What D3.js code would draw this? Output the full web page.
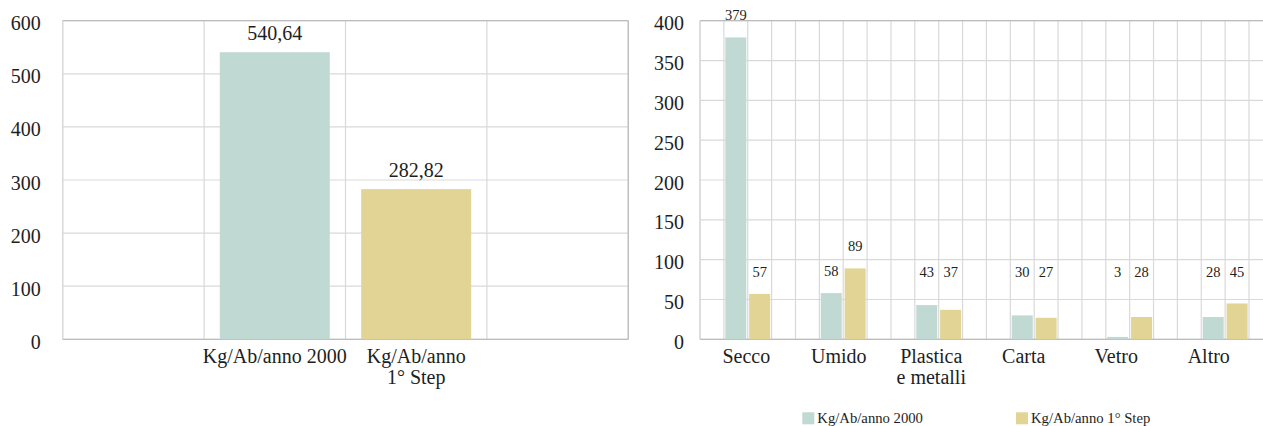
<!DOCTYPE html>
<html>
<head>
<meta charset="utf-8">
<script src="https://cdn.jsdelivr.net/npm/d3@7"></script>
<style>
  html, body { margin: 0; padding: 0; background: #fff; }
  svg { display: block; }
</style>
</head>
<body>
<svg id="chart" width="1263" height="426"></svg>
<script>
// ---- data ----
const totalCategories = ["Kg/Ab/anno 2000", "Kg/Ab/anno\n1° Step"];
const totalValues = [540.64, 282.82];
const totalTicks = [0, 100, 200, 300, 400, 500, 600];

const fractionCategories = ["Secco", "Umido", "Plastica\ne metalli", "Carta", "Vetro", "Altro"];
const seriesNames = ["Kg/Ab/anno 2000", "Kg/Ab/anno 1° Step"];
const values2000 = [379, 58, 43, 30, 3, 28];
const valuesStep1 = [57, 89, 37, 27, 28, 45];
const fractionTicks = [0, 50, 100, 150, 200, 250, 300, 350, 400];

// ---- style ----
const colors = ["#c1d9d3", "#e1d495"];
const gridColor = "#d9d9d9";
const frameColor = "#bcbcbc";
const textColor = "#1e1e1e";
const serif = "'Liberation Serif', 'Times New Roman', serif";
const fontSize = 20;

const itFormat = d3.formatLocale({ decimal: ",", thousands: ".", grouping: [3], currency: ["€", ""] });
const fmt2 = itFormat.format(".2f");

const svg = d3.select("#chart")
  .style("font-family", serif);

function styleText(sel, size) {
  sel.style("font-family", serif)
    .style("font-size", size + "px")
    .attr("fill", textColor);
}

// multi-line tick labels split on "\n"
function multiline(sel, lineHeight) {
  sel.each(function () {
    const t = d3.select(this);
    const lines = t.text().split("\n");
    t.text(null);
    lines.forEach((ln, i) => {
      t.append("tspan").attr("x", 0).attr("dy", i === 0 ? 0 : lineHeight).text(ln);
    });
  });
}

function frame(g, x0, x1, y0, y1) {
  g.append("line").attr("x1", x0).attr("x2", x1).attr("y1", y1).attr("y2", y1)
    .attr("stroke", frameColor).attr("stroke-width", 1.3);
  g.append("line").attr("x1", x0).attr("x2", x1).attr("y1", y0).attr("y2", y0)
    .attr("stroke", frameColor).attr("stroke-width", 1.3);
  g.append("line").attr("x1", x1).attr("x2", x1).attr("y1", y1).attr("y2", y0)
    .attr("stroke", frameColor).attr("stroke-width", 1.3);
  g.append("line").attr("x1", x0).attr("x2", x0).attr("y1", y1).attr("y2", y0)
    .attr("stroke", gridColor).attr("stroke-width", 1.3);
}

// ================= left chart: totals =================
{
  const x0 = 62.7, x1 = 628.3, yBottom = 339.3, yTop = 20.7;
  const g = svg.append("g");

  const y = d3.scaleLinear().domain([0, 600]).range([yBottom, yTop]);
  const x = d3.scaleBand().domain(totalCategories).range([x0, x1])
    .paddingInner(0.222).paddingOuter(1.111);

  // horizontal grid
  g.append("g").selectAll("line").data(totalTicks).join("line")
    .attr("x1", x0).attr("x2", x1)
    .attr("y1", d => y(d)).attr("y2", d => y(d))
    .attr("stroke", gridColor).attr("stroke-width", 1.2);

  // vertical grid: one cell per band step
  const cells = Math.round((x1 - x0) / x.step());
  g.append("g").selectAll("line").data(d3.range(cells + 1)).join("line")
    .attr("x1", i => x0 + i * x.step()).attr("x2", i => x0 + i * x.step())
    .attr("y1", yTop).attr("y2", yBottom)
    .attr("stroke", gridColor).attr("stroke-width", 1.2);

  frame(g, x0, x1, yBottom, yTop);

  // bars
  g.append("g").selectAll("rect").data(totalValues).join("rect")
    .attr("x", (d, i) => x(totalCategories[i]))
    .attr("width", x.bandwidth())
    .attr("y", d => y(d))
    .attr("height", d => yBottom - y(d))
    .attr("fill", (d, i) => colors[i]);

  // value labels
  g.append("g").selectAll("text").data(totalValues).join("text")
    .attr("x", (d, i) => x(totalCategories[i]) + x.bandwidth() / 2)
    .attr("y", d => y(d) - 12)
    .attr("text-anchor", "middle")
    .call(styleText, fontSize)
    .text(d => fmt2(d));

  // y axis
  const ya = g.append("g").attr("transform", `translate(${x0},0)`)
    .call(d3.axisLeft(y).tickValues(totalTicks).tickSize(0).tickPadding(22));
  ya.attr("font-family", null).attr("font-size", null);
  ya.select(".domain").remove();
  ya.selectAll("text").call(styleText, fontSize).attr("dy", "9px");

  // x axis
  const xa = g.append("g").attr("transform", `translate(0,${yBottom})`)
    .call(d3.axisBottom(x).tickSize(0).tickPadding(0));
  xa.attr("font-family", null).attr("font-size", null);
  xa.select(".domain").remove();
  xa.selectAll("text").call(styleText, fontSize)
    .attr("y", 23.7).attr("dy", 0).call(multiline, 21);
}

// ================= right chart: fractions =================
{
  const x0 = 700, cell = 23.87, nCells = 24, yBottom = 339.3, yTop = 20.7;
  const x1 = x0 + nCells * cell;
  const g = svg.append("g");

  const y = d3.scaleLinear().domain([0, 400]).range([yBottom, yTop]);
  const x = d3.scaleBand().domain(fractionCategories).range([x0, x1])
    .paddingInner(0.5).paddingOuter(0.25);
  const xs = d3.scaleBand().domain(seriesNames).range([0, x.bandwidth()])
    .paddingInner(0.12).paddingOuter(0.06);
  // category labels sit on their own band over the visible axis length
  const xLabels = d3.scaleBand().domain(fractionCategories).range([x0, 1255]);

  const rows = fractionCategories.map((c, i) => ({ cat: c, vals: [values2000[i], valuesStep1[i]] }));

  // horizontal grid
  g.append("g").selectAll("line").data(fractionTicks).join("line")
    .attr("x1", x0).attr("x2", x1)
    .attr("y1", d => y(d)).attr("y2", d => y(d))
    .attr("stroke", gridColor).attr("stroke-width", 1.2);

  // vertical grid: four cells per category step
  const cw = x.step() / 4;
  g.append("g").selectAll("line").data(d3.range(nCells + 1)).join("line")
    .attr("x1", i => x0 + i * cw).attr("x2", i => x0 + i * cw)
    .attr("y1", yTop).attr("y2", yBottom)
    .attr("stroke", gridColor).attr("stroke-width", 1.2);

  frame(g, x0, x1, yBottom, yTop);

  // bars
  const groups = g.append("g").selectAll("g").data(rows).join("g")
    .attr("transform", d => `translate(${x(d.cat)},0)`);
  groups.selectAll("rect").data(d => d.vals.map((v, k) => ({ v, s: seriesNames[k], k }))).join("rect")
    .attr("x", d => xs(d.s))
    .attr("width", xs.bandwidth())
    .attr("y", d => y(d.v))
    .attr("height", d => yBottom - y(d.v))
    .attr("fill", d => colors[d.k]);

  // value labels (low values share a common baseline)
  const labelFloor = 57;
  groups.selectAll("text").data(d => d.vals.map((v, k) => ({ v, s: seriesNames[k] }))).join("text")
    .attr("x", d => xs(d.s) + xs.bandwidth() / 2)
    .attr("y", d => Math.min(y(d.v), y(labelFloor)) - 17)
    .attr("text-anchor", "middle")
    .call(styleText, 14.5)
    .text(d => d.v);

  // y axis
  const ya = g.append("g").attr("transform", `translate(${x0},0)`)
    .call(d3.axisLeft(y).tickValues(fractionTicks).tickSize(0).tickPadding(16));
  ya.attr("font-family", null).attr("font-size", null);
  ya.select(".domain").remove();
  ya.selectAll("text").call(styleText, fontSize).attr("dy", "9px");

  // x axis
  const xa = g.append("g").attr("transform", `translate(0,${yBottom})`)
    .call(d3.axisBottom(xLabels).tickSize(0).tickPadding(0));
  xa.attr("font-family", null).attr("font-size", null);
  xa.select(".domain").remove();
  xa.selectAll("text").call(styleText, fontSize)
    .attr("y", 23.4).attr("dy", 0).call(multiline, 21.3);

  // legend
  const lx = d3.scalePoint().domain(seriesNames).range([802.3, 1016]);
  const lg = g.append("g").selectAll("g").data(seriesNames).join("g")
    .attr("transform", d => `translate(${lx(d)},412.3)`);
  lg.append("rect").attr("width", 12).attr("height", 12)
    .attr("fill", (d, i) => colors[i]);
  lg.append("text").attr("x", 15).attr("y", 10.7)
    .call(styleText, 14.7).text(d => d);
}
</script>
</body>
</html>
